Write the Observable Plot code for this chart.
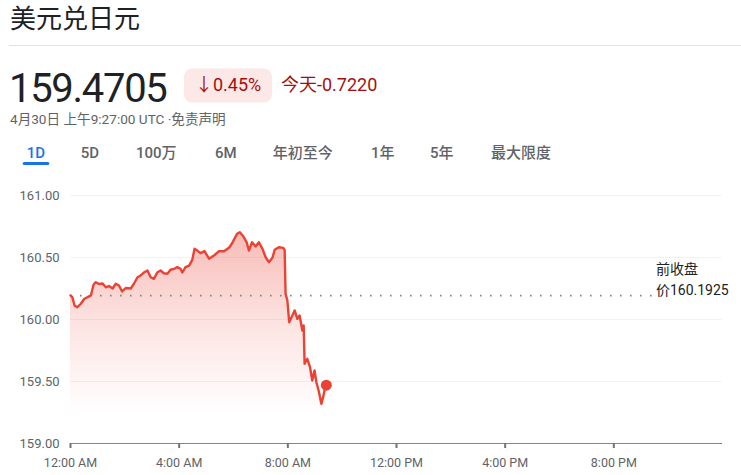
<!DOCTYPE html>
<html>
<head>
<meta charset="utf-8">
<script src="https://cdn.jsdelivr.net/npm/d3@7"></script>
<script src="https://cdn.jsdelivr.net/npm/@observablehq/plot@0.6"></script>
<style>
  html, body { margin: 0; padding: 0; background: #fff; }
  #wrap { position: relative; width: 741px; height: 475px; overflow: hidden;
          font-family: Roboto, "Noto Sans CJK SC", sans-serif; }
  #wrap svg { display: block; }
</style>
</head>
<body>
<div id="wrap"><div id="header"></div><div id="chart"></div></div>
<script>
// ---------- data ----------
const titleText = "美元兑日元";
const priceText = "159.4705";
const changePctText = "↓0.45%";
const changeAbsText = "今天-0.7220";
const dateText = "4月30日 上午9:27:00 UTC ·免责声明";
const tabs = ["1D", "5D", "100万", "6M", "年初至今", "1年", "5年", "最大限度"];
const activeTab = "1D";

const dayStart = "2024-04-30";
const times = [
  "00:00","00:04","00:09","00:15","00:23","00:30","00:38","00:45","00:51","00:56",
  "01:03","01:11","01:18","01:25","01:33","01:40","01:47","01:54","02:02","02:13",
  "02:20","02:28","02:35","02:42","02:50","02:57","03:04","03:12","03:19","03:26",
  "03:34","03:41","03:49","03:56","04:03","04:07","04:14","04:22","04:29","04:34",
  "04:40","04:47","04:56","05:06","05:17","05:28","05:39","05:50","05:57","06:02",
  "06:08","06:14","06:22","06:29","06:34","06:41","06:49","06:56","07:04","07:11",
  "07:18","07:26","07:31","07:40","07:50","07:53","07:55","07:59","08:03","08:10",
  "08:15","08:21","08:26","08:32","08:35","08:37","08:43","08:49","08:54","08:59",
  "09:03","09:08","09:14","09:18","09:21","09:25"
];
const values = [
  160.194,160.180,160.113,160.099,160.127,160.165,160.181,160.194,160.282,160.301,
  160.286,160.290,160.260,160.270,160.250,160.288,160.274,160.226,160.254,160.250,
  160.288,160.341,160.355,160.379,160.395,160.341,160.328,160.381,160.395,160.373,
  160.369,160.401,160.409,160.422,160.409,160.379,160.422,160.435,160.481,160.570,
  160.556,160.535,160.551,160.490,160.516,160.551,160.551,160.578,160.615,160.651,
  160.691,160.704,160.669,160.623,160.556,160.623,160.589,160.623,160.570,160.502,
  160.462,160.498,160.562,160.583,160.578,160.560,160.207,160.153,159.978,160.032,
  160.073,160.006,160.032,159.911,159.952,159.643,159.683,159.615,159.508,159.589,
  159.494,159.427,159.320,159.374,159.427,159.4705
];
const prevClose = 160.1925;
const prevCloseLabel = ["前收盘", "价160.1925"];
const prevCloseLabelTime = "21:33";
const yTicks = [159, 159.5, 160, 160.5, 161];
const xTickTimes = ["00:00", "04:00", "08:00", "12:00", "16:00", "20:00"];
const xTickLabels = ["12:00 AM", "4:00 AM", "8:00 AM", "12:00 PM", "4:00 PM", "8:00 PM"];
const dayEnd = "2024-05-01T00:00:00Z";

// ---------- header ----------
const FONT = 'Roboto, "Noto Sans CJK SC", sans-serif';
const hdr = d3.select("#header").append("svg")
  .attr("width", 741).attr("height", 180)
  .style("font-family", FONT);

hdr.append("text").attr("x", 10).attr("y", 28).attr("font-size", 26)
  .attr("fill", "#202124").text(titleText);
hdr.append("line").attr("x1", 9).attr("x2", 741).attr("y1", 45.5).attr("y2", 45.5)
  .attr("stroke", "#e3e3e3");
hdr.append("text").attr("x", 9).attr("y", 101.5).attr("font-size", 40)
  .attr("letter-spacing", -1.3).attr("fill", "#202124").text(priceText);
hdr.append("rect").attr("x", 184).attr("y", 68.5).attr("width", 88).attr("height", 34)
  .attr("rx", 8).attr("fill", "#fce8e6");
hdr.append("text").attr("x", 195).attr("y", 91).attr("font-size", 18)
  .attr("fill", "#a50e0e").text(changePctText);
hdr.append("text").attr("x", 281).attr("y", 91).attr("font-size", 18)
  .attr("fill", "#a50e0e").text(changeAbsText);
hdr.append("text").attr("x", 10).attr("y", 124).attr("font-size", 13.6)
  .attr("fill", "#5f6368").text(dateText);

const tabX = [26.7, 80.7, 136, 215, 272.7, 371, 430, 491];
tabs.forEach((t, i) => {
  hdr.append("text").attr("x", tabX[i]).attr("y", 157.5).attr("font-size", 15)
    .attr("font-weight", 500)
    .attr("fill", t === activeTab ? "#1a73e8" : "#5f6368").text(t);
});
hdr.append("rect").attr("x", 22.7).attr("y", 162).attr("width", 26.6).attr("height", 3)
  .attr("rx", 1.5).attr("fill", "#1a73e8");

// ---------- chart ----------
const parseT = t => new Date(`${dayStart}T${t}:00Z`);
const data = times.map((t, i) => ({date: parseT(t), value: values[i]}));
const last = data[data.length - 1];
const xDomain = [parseT("00:00"), new Date(dayEnd)];
const fmtHM = d3.utcFormat("%H:%M");
const labelDate = parseT(prevCloseLabelTime);

const chart = Plot.plot({
  width: 741,
  height: 295,
  marginTop: 15,
  marginBottom: 32,
  marginLeft: 70,
  marginRight: 19,
  style: {fontFamily: FONT, background: "transparent", overflow: "visible"},
  x: {type: "utc", domain: xDomain},
  y: {domain: [yTicks[0], yTicks[yTicks.length - 1]]},
  marks: [
    Plot.gridY(yTicks.slice(1), {stroke: "#f1f3f4", strokeOpacity: 1, strokeWidth: 1.2}),
    Plot.areaY(data, {x: "date", y1: yTicks[0], y2: "value", fill: "url(#usdjpyGrad)"}),
    Plot.ruleY([prevClose], {x1: xDomain[0], x2: labelDate, stroke: "#80868b",
      strokeWidth: 1.6, strokeDasharray: "1.6 8.4", strokeLinecap: "butt"}),
    Plot.line(data, {x: "date", y: "value", stroke: "#ea4335", strokeWidth: 2.4,
      strokeLinejoin: "round"}),
    Plot.dot([last], {x: "date", y: "value", r: 5.5, fill: "#ea4335"}),
    Plot.ruleY([yTicks[0]], {stroke: "#80868b", strokeWidth: 1}),
    Plot.axisX({
      ticks: xTickTimes.map(parseT),
      tickFormat: d => xTickLabels[xTickTimes.indexOf(fmtHM(d))],
      tickSize: 5, tickPadding: 10, fontSize: 12.5,
      color: "#5f6368", stroke: "#70757a", strokeWidth: 2, label: null
    }),
    Plot.axisY({
      ticks: yTicks, tickFormat: d3.format(".2f"),
      tickSize: 0, tickPadding: 11, fontSize: 13,
      color: "#5f6368", label: null
    }),
    Plot.text([{date: labelDate, value: prevClose}], {
      x: "date", y: "value", text: () => prevCloseLabel.join("\n"),
      textAnchor: "start", lineAnchor: "bottom", lineHeight: 1.5,
      fontSize: 14, fill: "#202124", dx: 0, dy: -1
    })
  ]
});

const defs = d3.select(chart).insert("defs", ":first-child");
const grad = defs.append("linearGradient").attr("id", "usdjpyGrad")
  .attr("x1", 0).attr("y1", 0).attr("x2", 0).attr("y2", 1);
grad.append("stop").attr("offset", "0%").attr("stop-color", "#ea4335").attr("stop-opacity", 0.36);
grad.append("stop").attr("offset", "45%").attr("stop-color", "#ea4335").attr("stop-opacity", 0.14);
grad.append("stop").attr("offset", "86%").attr("stop-color", "#ea4335").attr("stop-opacity", 0);
document.getElementById("chart").appendChild(chart);
</script>
</body>
</html>
